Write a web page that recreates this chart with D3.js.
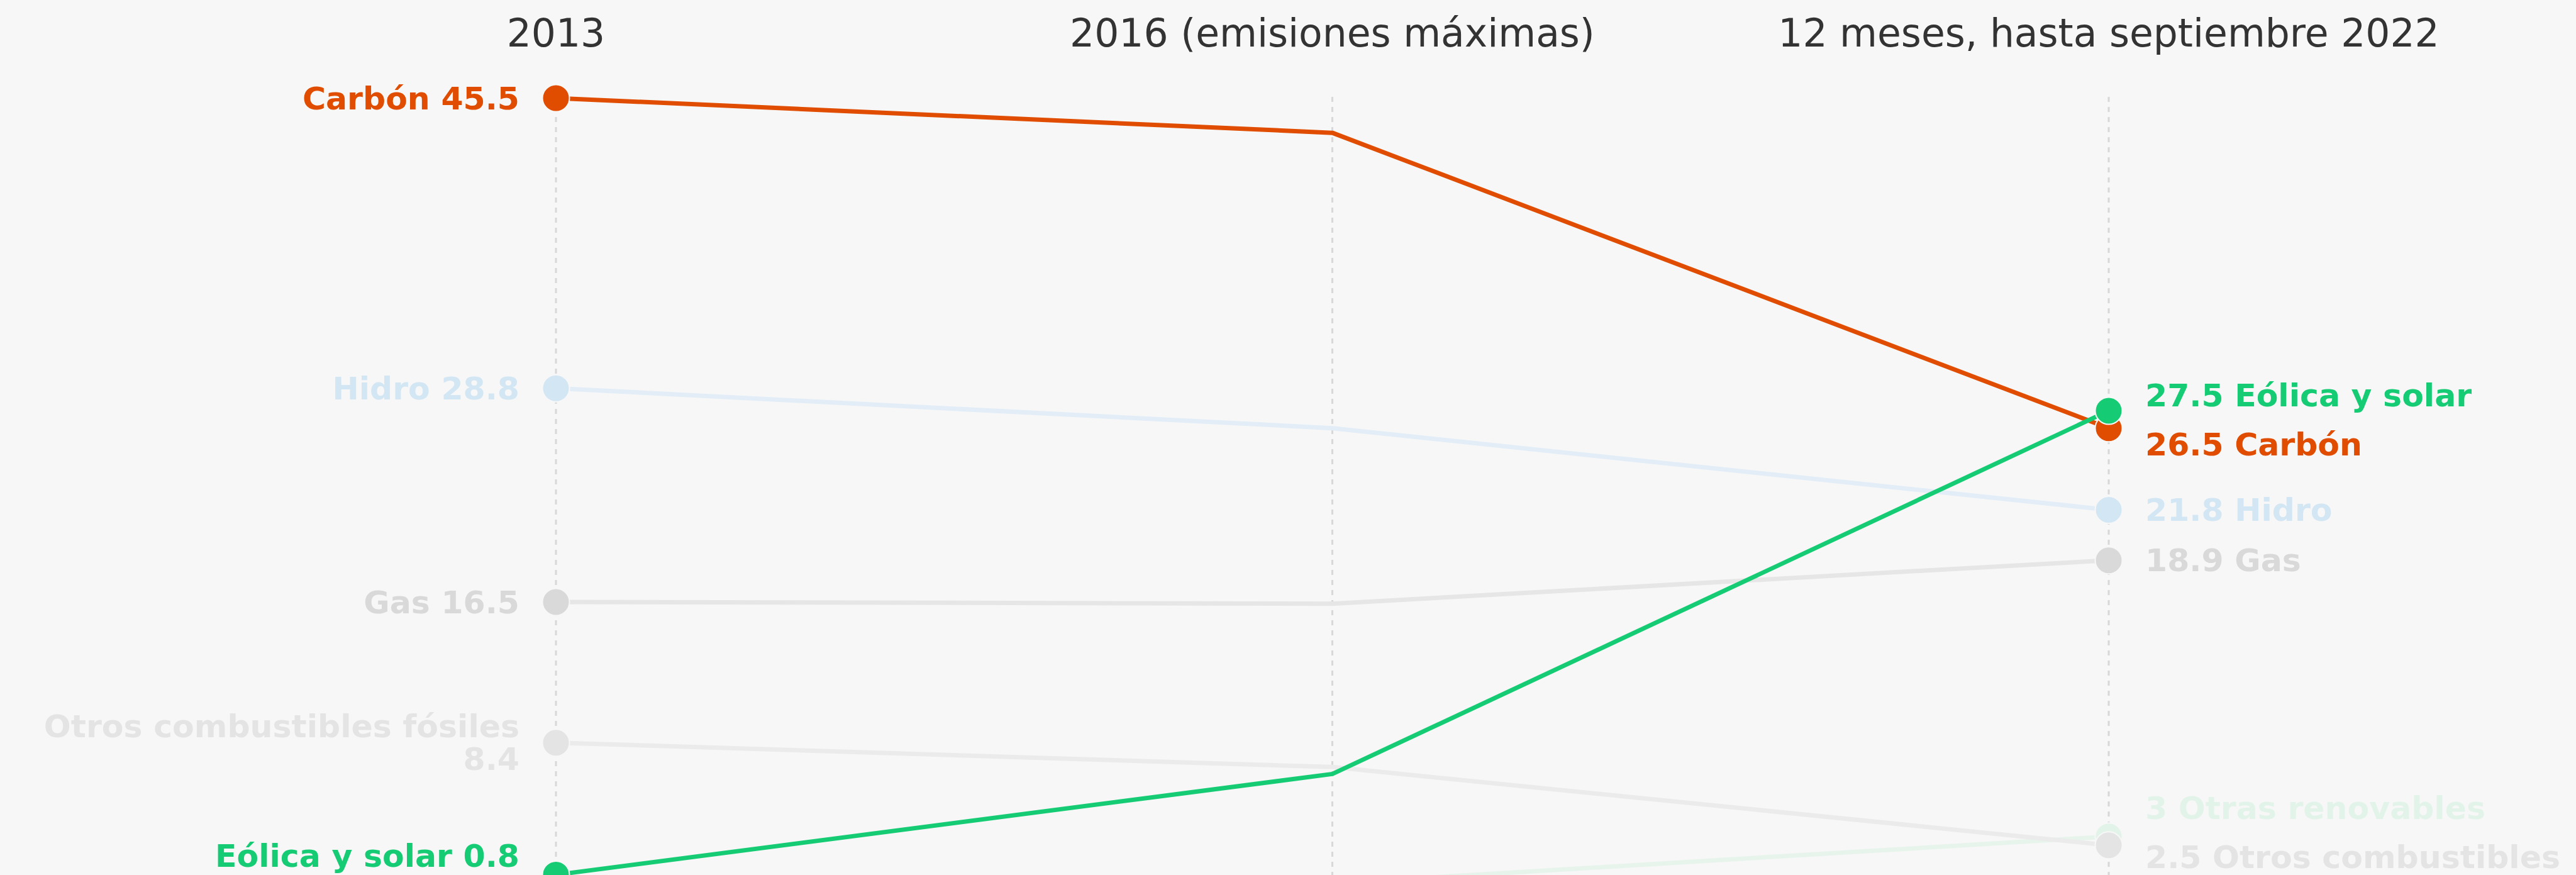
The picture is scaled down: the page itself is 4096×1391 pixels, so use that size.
<!DOCTYPE html>
<html>
<head>
<meta charset="utf-8">
<script src="https://cdn.jsdelivr.net/npm/d3@7"></script>
<style>
  html, body { margin: 0; padding: 0; background: #f7f7f7; overflow: hidden; }
  svg { display: block; font-family: "DejaVu Sans", sans-serif; }
</style>
</head>
<body>
<div class="container"></div>
<script>
'use strict';

// periods shown as columns
const periods = ['2013', '2016 (emisiones máximas)', '12 meses, hasta septiembre 2022'];

// share of generation (%) per source, one value per period
const carbon = [45.5, 43.5, 26.5];
const hidro = [28.8, 26.5, 21.8];
const gas = [16.5, 16.4, 18.9];
const otrosFosiles = [8.4, 7.0, 2.5];
const eolicaSolar = [0.8, 6.6, 27.5];
const otrasRenovables = [0.2, 0.3, 3.0];

// draw order: faint ones first, highlighted on top
const series = [
  { name: 'Hidro', values: hidro, color: '#d3e6f4', line: '#e2edf7' },
  { name: 'Gas', values: gas, color: '#d9d9d9', line: '#e6e6e6' },
  { name: 'Otras renovables', values: otrasRenovables, color: '#e2f4e9', line: '#e7f4ec' },
  { name: 'Otros combustibles fósiles', values: otrosFosiles, color: '#e4e4e4', line: '#ebebeb' },
  { name: 'Carbón', values: carbon, color: '#e14d00', line: '#e14d00' },
  { name: 'Eólica y solar', values: eolicaSolar, color: '#15cc74', line: '#15cc74' }
];

(function () {
  const width = 4096, height = 1391;
  const fontSize = 50.5, lineHeight = 52, labelPad = 26, labelOffset = 58, maxLabelWidth = 802;

  const svg = d3.select('.container').append('svg')
    .attr('width', width)
    .attr('height', height);

  svg.append('rect')
    .attr('width', width)
    .attr('height', height)
    .attr('fill', '#f7f7f7');

  const x = d3.scalePoint()
    .domain(periods)
    .range([884, 3353]);

  const y = d3.scaleLinear()
    .domain([0, 45.5])
    .range([1412.7, 155.9]);

  // column headers
  svg.selectAll('text.header')
    .data(periods)
    .enter()
    .append('text')
    .attr('class', 'header')
    .attr('x', d => x(d))
    .attr('y', 74)
    .attr('text-anchor', 'middle')
    .attr('font-size', 61.5)
    .attr('fill', '#333333')
    .text(d => d);

  // dashed guides
  svg.selectAll('line.guide')
    .data(periods)
    .enter()
    .append('line')
    .attr('class', 'guide')
    .attr('x1', d => x(d))
    .attr('x2', d => x(d))
    .attr('y1', y(45.5) - 2)
    .attr('y2', height)
    .attr('stroke', '#d8d8d8')
    .attr('stroke-width', 3)
    .attr('stroke-dasharray', '8,8');

  const line = d3.line()
    .x((d, i) => x(periods[i]))
    .y(d => y(d));

  svg.selectAll('path.series')
    .data(series)
    .enter()
    .append('path')
    .attr('class', 'series')
    .attr('d', d => line(d.values))
    .attr('fill', 'none')
    .attr('stroke', d => d.line)
    .attr('stroke-width', 7)
    .attr('stroke-linejoin', 'round');

  // dots only at first and last column
  const ends = [0, 2];
  ends.forEach(idx => {
    svg.selectAll('circle.dot' + idx)
      .data(series)
      .enter()
      .append('circle')
      .attr('cx', x(periods[idx]))
      .attr('cy', d => y(d.values[idx]))
      .attr('r', 21.5)
      .attr('fill', d => d.color)
      .attr('stroke', '#f7f7f7')
      .attr('stroke-width', 2);
  });

  // measure text for wrapping
  const measure = svg.append('text')
    .attr('font-size', fontSize)
    .attr('font-weight', 'bold');

  function wrap(str) {
    const words = str.split(' ');
    const lines = [];
    let cur = '';
    words.forEach(w => {
      const test = cur ? cur + ' ' + w : w;
      measure.text(test);
      if (cur && measure.node().getComputedTextLength() > maxLabelWidth) {
        lines.push(cur);
        cur = w;
      } else {
        cur = test;
      }
    });
    lines.push(cur);
    return lines;
  }

  // push overlapping label blocks apart
  function relax(labels) {
    labels.sort((a, b) => a.cy - b.cy);
    for (let iter = 0; iter < 200; iter++) {
      let moved = false;
      for (let i = 0; i < labels.length - 1; i++) {
        const a = labels[i], b = labels[i + 1];
        const need = (a.h + b.h) / 2 + labelPad;
        const gap = b.cy - a.cy;
        if (gap < need - 0.1) {
          const shift = (need - gap) / 2;
          a.cy -= shift;
          b.cy += shift;
          moved = true;
        }
      }
      if (!moved) break;
    }
  }

  ends.forEach(idx => {
    const left = idx === 0;
    const labels = series.map(s => {
      const v = s.values[idx];
      const str = left ? s.name + ' ' + v : v + ' ' + s.name;
      const lines = wrap(str);
      return { s: s, lines: lines, cy: y(v), h: lines.length * lineHeight };
    });
    relax(labels);

    labels.forEach(l => {
      const t = svg.append('text')
        .attr('font-size', fontSize)
        .attr('font-weight', 'bold')
        .attr('fill', l.s.color)
        .attr('text-anchor', left ? 'end' : 'start');
      const top = l.cy - (l.lines.length - 1) * lineHeight / 2;
      l.lines.forEach((txt, k) => {
        t.append('tspan')
          .attr('x', x(periods[idx]) + (left ? -labelOffset : labelOffset))
          .attr('y', top + k * lineHeight)
          .attr('dy', '0.35em')
          .text(txt);
      });
    });
  });

  measure.remove();
})();
</script>
</body>
</html>
